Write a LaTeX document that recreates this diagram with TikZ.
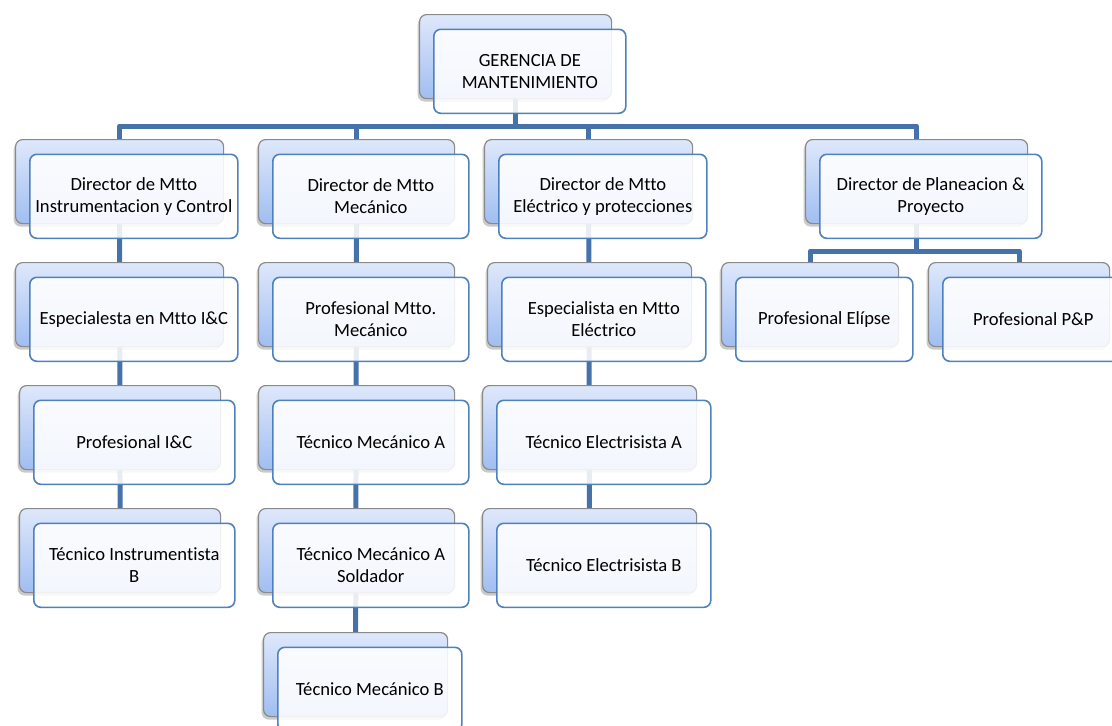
\documentclass[tikz,border=0pt]{standalone}
\usepackage{fontspec}
\setmainfont{Carlito}[Ligatures={NoCommon,TeX}]
\usetikzlibrary{shadows,backgrounds}
\definecolor{connc}{HTML}{4672AA}
\definecolor{backtop}{HTML}{DEE8FB}
\definecolor{backbot}{HTML}{A0BEF2}
\definecolor{backline}{HTML}{8A8A8A}
\definecolor{frontline}{HTML}{4F81BD}
\tikzset{
  backbox/.style={rectangle, rounded corners=7pt, draw=backline, line width=1.2pt,
    top color=backtop, bottom color=backbot, inner sep=0pt, anchor=north west,
    drop shadow={shadow xshift=-2pt, shadow yshift=-3pt, opacity=0.35, fill=black!60}},
  frontbox/.style={rectangle, rounded corners=7pt, draw=frontline, line width=1.6pt,
    fill=white, fill opacity=0.88, text opacity=1, inner sep=0pt, anchor=north west,
    align=center, font=\fontsize{18.6}{22}\selectfont, text=black},
  conn/.style={draw=connc, line width=5pt, line join=round}
}
% name, back left x, back top y, width, text
\newcommand\orgbox[5]{%
  \node[backbox, minimum width=#4pt, minimum height=84pt] (#1B) at (#2pt,-#3pt) {};
  \node[frontbox, minimum width=#4pt, minimum height=84pt] (#1F) at ({#2pt+14pt},{-#3pt-14.5pt}) {#5};
}
\begin{document}
\begin{tikzpicture}[x=1pt,y=1pt]
\useasboundingbox (0,0) rectangle (1112,-726);
\clip (0,0) rectangle (1112,-726);
\orgbox{top}{419}{14}{192}{GERENCIA DE\\MANTENIMIENTO}
\orgbox{da}{15}{139}{208}{Director de Mtto\\Instrumentacion y Control}
\orgbox{db}{258}{139}{196}{Director de Mtto\\Mecánico}
\orgbox{dc}{484}{139}{208}{Director de Mtto\\Eléctrico y protecciones}
\orgbox{dd}{805}{139}{222}{Director de Planeacion \&\\Proyecto}
\orgbox{aa}{15}{262}{208}{Especialesta en Mtto I\&C}
\orgbox{ab}{19}{385}{201}{Profesional I\&C}
\orgbox{ac}{19}{508}{201}{Técnico Instrumentista\\B}
\orgbox{ba}{258}{262}{196}{Profesional Mtto.\\Mecánico}
\orgbox{bb}{258}{385}{196}{Técnico Mecánico A}
\orgbox{bc}{258}{508}{196}{Técnico Mecánico A\\Soldador}
\orgbox{bd}{263}{632}{184}{Técnico Mecánico B}
\orgbox{ca}{487}{262}{204}{Especialista en Mtto\\Eléctrico}
\orgbox{cb}{482}{385}{214}{Técnico Electrisista A}
\orgbox{cc}{482}{508}{214}{Técnico Electrisista B}
\orgbox{ea}{721}{262}{177}{Profesional Elípse}
\orgbox{eb}{928}{262}{181}{Profesional P\&P}
\coordinate (bus) at (0,-126);
\coordinate (subbus) at (0,-251);
\begin{pgfonlayer}{background}
\draw[conn] (topB.center) -- (topB.center |- bus);
\draw[conn] (daB.center) -- (daB.center |- bus) -- (ddB.center |- bus) -- (ddB.center);
\draw[conn] (dbB.center |- bus) -- (dbB.center);
\draw[conn] (dcB.center |- bus) -- (dcB.center);
\draw[conn] (daB.center) -- (acB.center);
\draw[conn] (dbB.center) -- (bdB.center);
\draw[conn] (dcB.center) -- (ccB.center);
\draw[conn] (ddB.center) -- (ddB.center |- subbus);
\draw[conn] (eaB.center) -- (eaB.center |- subbus) -- (ebB.center |- subbus) -- (ebB.center);
\end{pgfonlayer}
\end{tikzpicture}
\end{document}
